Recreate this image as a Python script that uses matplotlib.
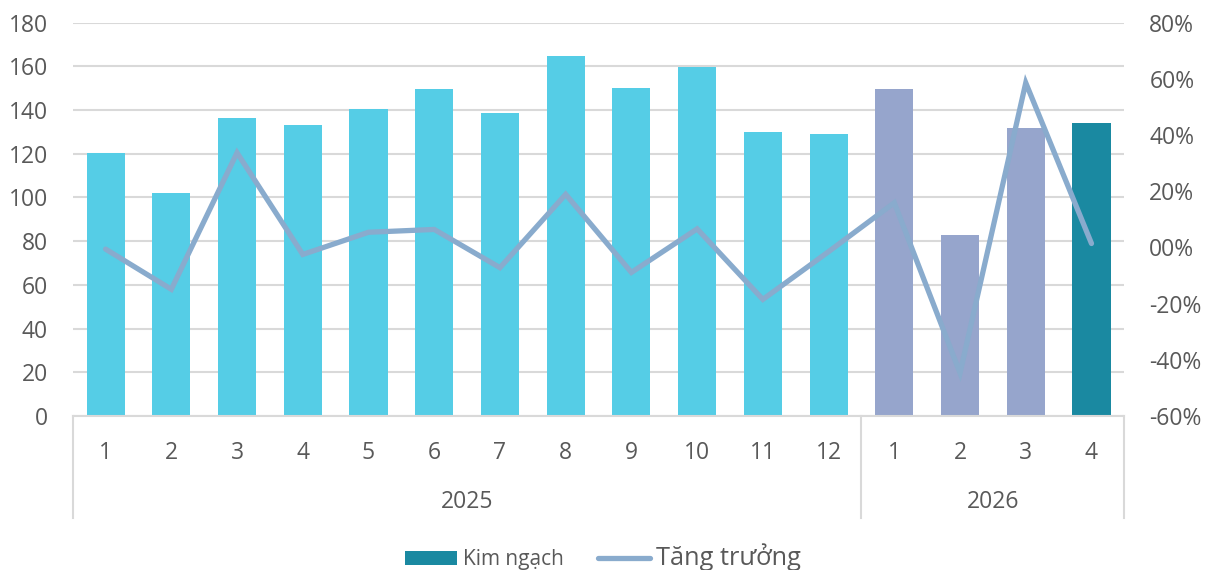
import matplotlib.pyplot as plt
import matplotlib.transforms as mtransforms
from matplotlib.patches import Patch
from matplotlib.lines import Line2D
from matplotlib.ticker import FuncFormatter

plt.rcParams['font.family'] = ['Open Sans', 'DejaVu Sans']

years = ["2025", "2026"]
months_2025 = ["1", "2", "3", "4", "5", "6", "7", "8", "9", "10", "11", "12"]
months_2026 = ["1", "2", "3", "4"]
kim_ngach = [120.2, 101.9, 136.4, 133.2, 140.5, 149.5, 138.7, 164.8, 150.1, 159.7, 130.0, 129.1,
             149.5, 83.0, 132.0, 134.3]
tang_truong = [-0.6, -14.9, 33.7, -2.5, 5.4, 6.4, -7.2, 18.9, -8.9, 6.6, -18.5, -1.5,
               15.9, -44.7, 58.6, 1.4]

CYAN = "#55CDE6"
LAVENDER = "#96A5CC"
TEAL = "#1A89A1"
LINE = "#89ABCD"
TEXT = "#595959"
GRID = "#D9D9D9"

labels = months_2025 + months_2026
x = list(range(len(labels)))
colors = [CYAN] * len(months_2025) + [LAVENDER] * (len(months_2026) - 1) + [TEAL]

fig = plt.figure(figsize=(12.06, 5.7), dpi=100)
ax = fig.add_axes([0.0603, 0.2702, 0.872, 0.69])

ax.bar(x, kim_ngach, width=0.58, color=colors, zorder=2)
ax.set_xlim(-0.5, len(labels) - 0.5)
ax.set_ylim(0, 180)
ax.set_yticks(range(0, 181, 20))
ax.set_axisbelow(True)
ax.grid(axis="y", color=GRID, linewidth=1.5)
for side in ["top", "right", "left"]:
    ax.spines[side].set_visible(False)
ax.spines["bottom"].set_color(GRID)
ax.spines["bottom"].set_linewidth(1.5)
ax.set_xticks(x)
ax.set_xticklabels(labels)
ax.tick_params(axis="x", length=0, pad=18, labelsize=16.5, labelcolor=TEXT)
ax.tick_params(axis="y", length=0, pad=18, labelsize=16.5, labelcolor=TEXT)

ax2 = ax.twinx()
ax2.plot(x, tang_truong, color=LINE, linewidth=3.8, solid_capstyle="round",
         solid_joinstyle="miter", zorder=3)
ax2.set_ylim(-60, 80)
ax2.set_yticks(range(-60, 81, 20))
ax2.yaxis.set_major_formatter(FuncFormatter(lambda v, _: f"{v:02.0f}%"))
ax2.tick_params(axis="y", length=0, pad=18, labelsize=16.5, labelcolor=TEXT)
for side in ["top", "right", "left", "bottom"]:
    ax2.spines[side].set_visible(False)

# year groups under the month labels, with separators
trans = mtransforms.blended_transform_factory(ax.transData, ax.transAxes)
n25 = len(months_2025)
bounds = [-0.5, n25 - 0.5, len(labels) - 0.5]
for b in bounds:
    ax.plot([b, b], [0, -0.259], transform=trans, color=GRID, linewidth=1.5,
            clip_on=False)
ax.text((n25 - 1) / 2, -0.218, years[0], transform=trans, ha="center", va="center",
        fontsize=16.5, color=TEXT)
ax.text(n25 + (len(months_2026) - 1) / 2, -0.218, years[1], transform=trans,
        ha="center", va="center", fontsize=16.5, color=TEXT)

handles = [Patch(facecolor=TEAL, edgecolor="none"),
           Line2D([], [], color=LINE, linewidth=3.8, solid_capstyle="round")]
leg = fig.legend(handles, ["Kim ngạch", "Tăng trưởng"], loc="center",
                 bbox_to_anchor=(0.5, 0.022), ncol=2, frameon=False,
                 fontsize=15, handlelength=2.5, handletextpad=0.3,
                 columnspacing=1.6, borderaxespad=0, borderpad=0)
for t in leg.get_texts():
    t.set_color(TEXT)
leg.get_texts()[1].set_fontsize(18.3)

fig.savefig("out.png", dpi=100)
